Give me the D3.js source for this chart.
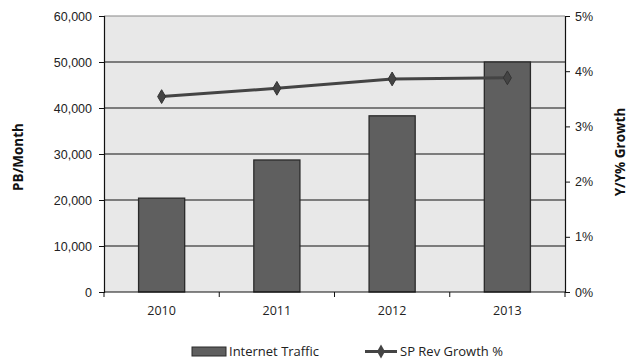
<!DOCTYPE html>
<html><head><meta charset="utf-8">
<script src="https://cdn.jsdelivr.net/npm/d3@7"></script>
<style>body{margin:0;background:#fff;}svg{display:block;font-family:"Open Sans",sans-serif;}</style>
</head><body><svg width="634" height="362"></svg>
<script>
const years = ["2010","2011","2012","2013"];
const traffic = [20400, 28700, 38300, 50000];
const growth = [3.54, 3.69, 3.86, 3.88];
const leftTicks = [0,10000,20000,30000,40000,50000,60000];
const rightTicks = [0,1,2,3,4,5];

const svg = d3.select("svg");
const L=104, R=565, T=16, B=292;
const x = d3.scaleBand().domain(years).range([L,R]).paddingInner(0.6).paddingOuter(0.3);
const xb = d3.scaleBand().domain(years).range([L,R]);
const y = d3.scaleLinear().domain([0,60000]).range([B,T]);
const y2 = d3.scaleLinear().domain([0,5]).range([B,T]);

// background
svg.append("rect").attr("x",L).attr("y",T).attr("width",R-L).attr("height",B-T).attr("fill","#e8e8e8");
// gridlines
svg.append("g").selectAll("line").data(leftTicks.filter(d=>d>0)).join("line")
  .attr("x1",L).attr("x2",R).attr("y1",d=>y(d)).attr("y2",d=>y(d))
  .attr("stroke",d=>d===60000?"#888":"#111").attr("stroke-width",1.2);

// bars
svg.append("g").selectAll("rect").data(traffic).join("rect")
  .attr("x",(d,i)=>x(years[i])).attr("width",x.bandwidth())
  .attr("y",d=>y(d)).attr("height",d=>B-y(d))
  .attr("fill","#5f5f5f").attr("stroke","#2a2a2a").attr("stroke-width",1.3);

// left axis
const la = svg.append("g").attr("transform",`translate(${L},0)`)
  .call(d3.axisLeft(y).tickValues(leftTicks).tickFormat(d3.format(",")).tickSize(5).tickPadding(7));
la.select(".domain").attr("stroke","#111").attr("stroke-width",1.2);
la.selectAll(".tick line").attr("stroke","#111");
la.selectAll("text").attr("font-size",12.5).attr("fill","#222");

// right axis
const ra = svg.append("g").attr("transform",`translate(${R},0)`)
  .call(d3.axisRight(y2).tickValues(rightTicks).tickFormat(d=>d+"%").tickSize(5).tickPadding(5));
ra.select(".domain").attr("stroke","#111").attr("stroke-width",1.2);
ra.selectAll(".tick line").attr("stroke","#111");
ra.selectAll("text").attr("font-size",12.5).attr("fill","#222");

// bottom axis
svg.append("line").attr("x1",L).attr("x2",R).attr("y1",B).attr("y2",B).attr("stroke","#111").attr("stroke-width",1.2);
const bounds = years.map(d=>xb(d)).concat([R]);
svg.append("g").selectAll("line").data(bounds).join("line")
  .attr("x1",d=>d).attr("x2",d=>d).attr("y1",B).attr("y2",B+5).attr("stroke","#111");
svg.append("g").selectAll("text").data(years).join("text")
  .attr("x",d=>xb(d)+xb.bandwidth()/2).attr("y",315).attr("text-anchor","middle")
  .attr("font-size",12.5).attr("fill","#222").text(d=>d);

// line
const line = d3.line().x((d,i)=>xb(years[i])+xb.bandwidth()/2).y(d=>y2(d));
svg.append("path").datum(growth).attr("d",line).attr("fill","none").attr("stroke","#444").attr("stroke-width",3);
const diamond = d3.symbol().type(d3.symbolDiamond).size(55);
svg.append("g").selectAll("path").data(growth).join("path")
  .attr("transform",(d,i)=>`translate(${xb(years[i])+xb.bandwidth()/2},${y2(d)})`)
  .attr("d",diamond).attr("fill","#444").attr("stroke","#333");

// axis titles
svg.append("text").attr("transform","translate(23,157) rotate(-90)").attr("text-anchor","middle")
  .attr("font-size",13.5).attr("font-weight","bold").attr("fill","#111").text("PB/Month");
svg.append("text").attr("transform","translate(625,152) rotate(-90)").attr("text-anchor","middle")
  .attr("font-size",13.5).attr("font-weight","bold").attr("fill","#111").text("Y/Y% Growth");

// legend
const lg = svg.append("g");
lg.append("rect").attr("x",192).attr("y",347).attr("width",34).attr("height",9).attr("fill","#5f5f5f").attr("stroke","#2a2a2a");
lg.append("text").attr("x",229).attr("y",356).attr("font-size",13).attr("fill","#222").text("Internet Traffic");
lg.append("line").attr("x1",365).attr("x2",397).attr("y1",351.5).attr("y2",351.5).attr("stroke","#444").attr("stroke-width",3);
lg.append("path").attr("transform","translate(381,351.5)").attr("d",diamond).attr("fill","#444");
lg.append("text").attr("x",400).attr("y",356).attr("font-size",13).attr("fill","#222").text("SP Rev Growth %");
</script></body></html>
